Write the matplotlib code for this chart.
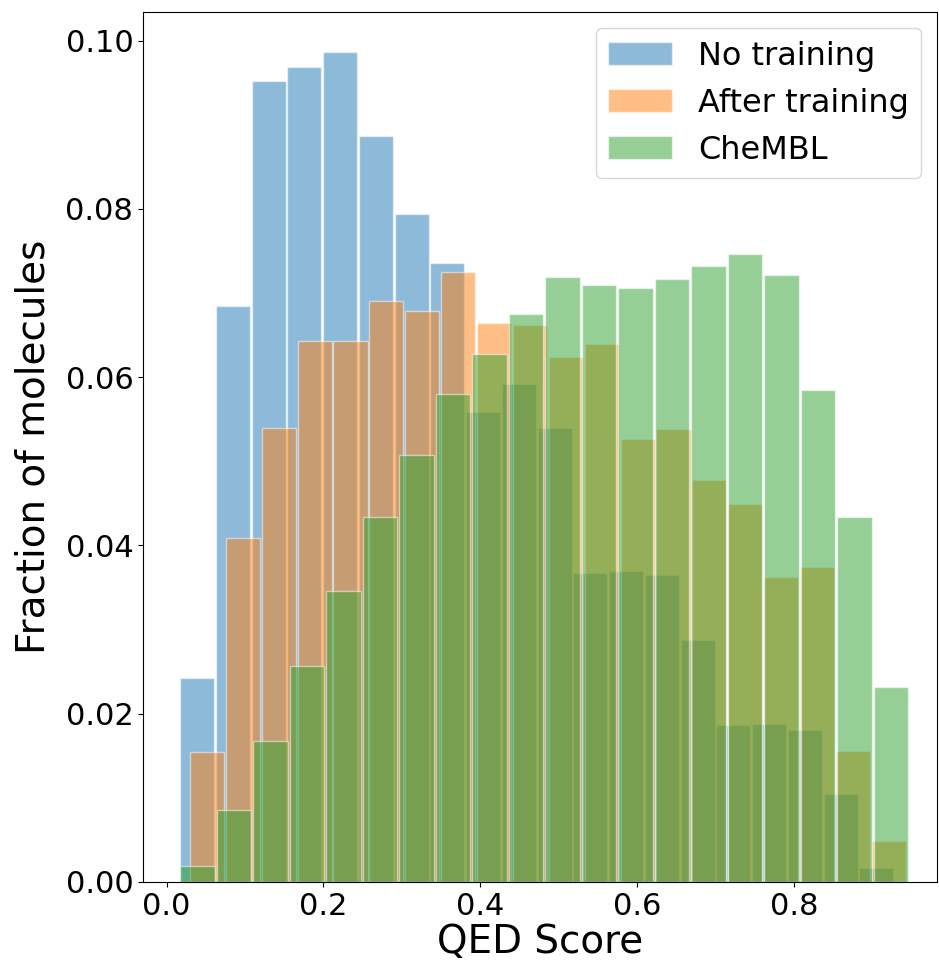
import numpy as np
import matplotlib
matplotlib.use("Agg")
import matplotlib.pyplot as plt

# bin ranges (min, max of each score set), 20 bins each
no_train_range = (0.0163, 0.928)
after_train_range = (0.0287, 0.944)
chembl_range = (0.0163, 0.947)

# fraction of molecules per bin
no_train = [0.0243, 0.0685, 0.0952, 0.0969, 0.0986, 0.0887, 0.0794, 0.0736, 0.0558, 0.0592,
            0.0540, 0.0367, 0.0369, 0.0365, 0.0287, 0.0186, 0.0188, 0.0181, 0.0105, 0.0016]
after_train = [0.0154, 0.0409, 0.0540, 0.0643, 0.0643, 0.0690, 0.0679, 0.0725, 0.0664, 0.0662,
               0.0624, 0.0639, 0.0527, 0.0538, 0.0478, 0.0449, 0.0363, 0.0374, 0.0156, 0.0049]
chembl = [0.0019, 0.0085, 0.0167, 0.0257, 0.0346, 0.0434, 0.0508, 0.0580, 0.0628, 0.0675,
          0.0719, 0.0710, 0.0706, 0.0717, 0.0732, 0.0746, 0.0721, 0.0585, 0.0434, 0.0232]

labels = ['No training', 'After training', 'CheMBL']

fig = plt.figure(figsize=(9.39, 9.66), dpi=100)
ax = fig.add_axes([0.1523, 0.087, 0.846, 0.9006])

for rng, vals, lab in zip([no_train_range, after_train_range, chembl_range],
                          [no_train, after_train, chembl], labels):
    edges = np.linspace(rng[0], rng[1], len(vals) + 1)
    centers = (edges[:-1] + edges[1:]) / 2
    ax.hist(centers, bins=edges, weights=vals, alpha=0.5, edgecolor='white',
            linewidth=1, rwidth=0.95, label=lab)

ax.set_xlim(-0.030, 0.983)
ax.set_ylim(0, 0.1034)
ax.set_yticks([0.0, 0.02, 0.04, 0.06, 0.08, 0.10])
ax.set_yticklabels(['0.00', '0.02', '0.04', '0.06', '0.08', '0.10'])
ax.tick_params(labelsize=22)
ax.set_xlabel('QED Score', fontsize=28, labelpad=2)
ax.set_ylabel('Fraction of molecules', fontsize=28, labelpad=9)
ax.legend(fontsize=23, loc='upper right')

plt.savefig('out.png', dpi=100)
